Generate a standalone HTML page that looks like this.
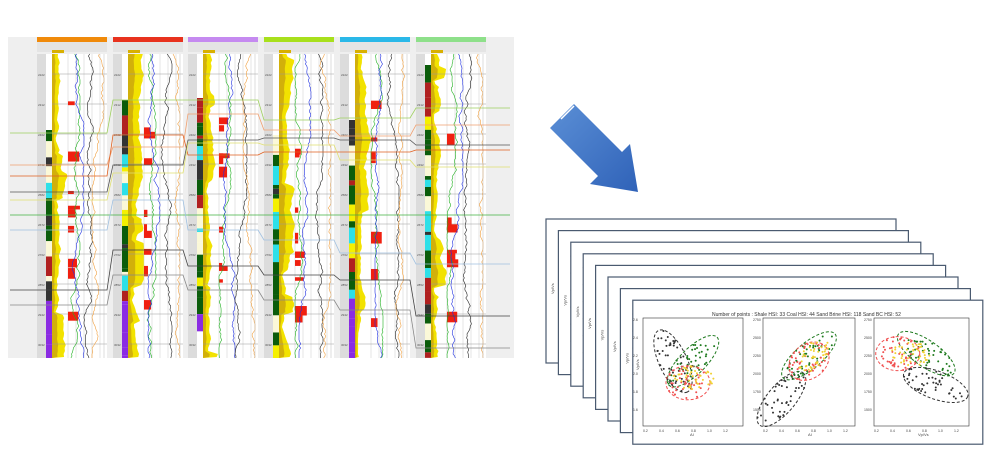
<!DOCTYPE html>
<html><head><meta charset="utf-8"><style>
html,body{margin:0;padding:0;background:#fff;}
body{width:992px;height:454px;overflow:hidden;position:relative;font-family:"Liberation Sans",sans-serif;}
svg{position:absolute;left:0;top:0;}
</style></head><body>
<svg id="s" width="992" height="454" viewBox="0 0 992 454" xmlns="http://www.w3.org/2000/svg">
<rect x="8" y="37" width="506" height="321" fill="#efefef"/>
<g id="wells"></g>
<g id="tops"></g>
<g>
<defs><linearGradient id="ag" x1="0" y1="0" x2="1" y2="1"><stop offset="0" stop-color="#5b8fd6"/><stop offset="1" stop-color="#2f62b8"/></linearGradient></defs>
<polygon points="566,112 574,104 622,152 630,144 638,192 590,184 598,176 550,128 558,120" fill="url(#ag)"/>
<line x1="556" y1="114" x2="569" y2="101" stroke="#fff" stroke-width="1.5"/>
<line x1="561" y1="119" x2="574" y2="106" stroke="#fff" stroke-width="1.5"/>
</g>
<g id="slides"></g>
<g font-size="5" fill="#333">
<text x="712" y="316">Number of points :   Shale HSI: 33    Coal HSI: 44    Sand Brine HSI: 118    Sand BC HSI: 52</text>
</g>
</svg>
<script>
var S=document.getElementById('s'),NS='http://www.w3.org/2000/svg';
var seed=7;function r(){seed=(seed*16807)%2147483647;return (seed-1)/2147483646;}
function el(t,a,p){var e=document.createElementNS(NS,t);for(var k in a)e.setAttribute(k,a[k]);(p||S).appendChild(e);return e;}
var W=document.getElementById('wells');
var wells=[[37,'#f08a0a',130],[113,'#e8321e',100],[188,'#c58af0',98],[264,'#a8e01c',135],[340,'#2ab8e8',120],[416,'#8ee08a',65]];
var top0=54,bot=358;
wells.forEach(function(w,i){
 var x=w[0],wd=70;
 el('rect',{x:x,y:37,width:wd,height:5,fill:w[1]},W);
 el('rect',{x:x,y:42,width:wd,height:10,fill:'#e4e4e4'},W);
 el('rect',{x:x+15,y:50,width:12,height:3,fill:'#d9b000'},W);
 el('rect',{x:x,y:top0,width:wd,height:bot-top0,fill:'#fff'},W);
 el('rect',{x:x,y:top0,width:9,height:bot-top0,fill:'#dcdcdc'},W);
 var y=w[2];var pal=['#0b5c0b','#0b5c0b','#0b5c0b','#f5f000','#fbf8d8','#2ee0e8','#333','#b02020','#0b5c0b'];
 while(y<bot){var h=3+r()*18;var c=pal[Math.floor(r()*pal.length)];
  if(y>bot-60&&(i==0||i==1||i==4))c='#8a2be2';
  if(i==2&&y>300&&y<318)c='#8a2be2';
  if(i==2&&y>318){break;}
  el('rect',{x:x+9,y:y,width:6,height:Math.min(h,bot-y),fill:c},W);y+=h;}
 var pts=[[x+15,top0]],gx=x+22,ins=[];
 for(var yy=top0;yy<=bot;yy+=3){gx+= (r()-0.5)*3; if(r()<0.06)gx=x+18+r()*13; gx=Math.max(x+18,Math.min(x+31,gx));pts.push([gx,yy]);ins.push([x+15+(gx-x-15)*0.45,yy]);}
 pts.push([x+15,bot]);
 el('polygon',{points:pts.map(function(p){return p.join(',')}).join(' '),fill:'#f2e200'},W);
 var ip=[[x+15,top0]].concat(ins).concat([[x+15,bot]]);
 el('polygon',{points:ip.map(function(p){return p.join(',')}).join(' '),fill:'#c9a40c',opacity:0.8},W);
 for(var k=0;k<5;k++)el('line',{x1:x+31+k*8,y1:top0,x2:x+31+k*8,y2:bot,stroke:'#ccc','stroke-width':0.5},W);
 for(var yy=top0+20;yy<bot;yy+=30){el('line',{x1:x+15,y1:yy,x2:x+wd,y2:yy,stroke:'#999','stroke-width':0.5},W);
  el('text',{x:x+1,y:yy+2,'font-size':3,fill:'#555'},W).textContent=(2000+yy*3)+'';}
 for(var k=0;k<9;k++){var yy=100+r()*220;el('rect',{x:x+31,y:yy,width:3+r()*9,height:3+r()*9,fill:'#f02010'},W);}
 [['#20b020',x+37],['#2030e0',x+41],['#222',x+53],['#f0a040',x+61]].forEach(function(c){
  var d='M',cx=c[1];for(var yy=top0;yy<=bot;yy+=2){cx+=(r()-0.5)*3;cx=Math.max(c[1]-6,Math.min(c[1]+6,cx));d+=cx.toFixed(1)+','+yy+' ';}
  el('path',{d:d,fill:'none',stroke:c[0],'stroke-width':0.6},W);});
 el('line',{x1:x+wd-3,y1:top0,x2:x+wd-3,y2:bot,stroke:'#bbb','stroke-width':0.5},W);
});
var T=document.getElementById('tops');
var tops=[['#9fd060',[133,100,100,120,118,108]],['#f0a070',[165,147,114,130,136,125]],['#e06020',[176,135,155,152,152,150]],['#555',[192,165,140,138,140,145]],['#e0e070',[200,173,143,145,160,167]],['#40b040',[215,215,215,215,215,215]],['#a0c0e0',[230,200,230,240,253,264]],['#444',[290,250,266,275,280,316]],['#888',[305,275,290,300,310,348]]];
tops.forEach(function(t){var d='M10,'+t[1][0]+' ';
 wells.forEach(function(w,i){d+='L'+w[0]+','+t[1][i]+' L'+(w[0]+70)+','+t[1][i]+' ';});
 d+='L510,'+t[1][5];
 el('path',{d:d,fill:'none',stroke:t[0],'stroke-width':0.8},T);});
var G=document.getElementById('slides');
for(var i=0;i<8;i++){var x=546+i*12.4,y=219+i*11.6;
 el('rect',{x:x,y:y,width:350,height:144,fill:'#fff',stroke:'#4a5a70','stroke-width':1.2},G);
 if(i<7){el('text',{x:x+8,y:y+75,'font-size':4,fill:'#444',transform:'rotate(-90 '+(x+8)+' '+(y+75)+')'},G).textContent='Vp/Vs';
  for(var k=0;k<7;k++)el('rect',{x:x+12,y:y+25+k*17,width:1.5,height:1,fill:'#555'},G);}
}
var plots=[[643,318,100,108],[763,318,92,108],[874,318,95,108]];
var cols=['#333','#1e7a1e','#f05050','#f0d030'];
plots.forEach(function(p,pi){
 el('rect',{x:p[0],y:p[1],width:p[2],height:p[3],fill:'none',stroke:'#333','stroke-width':0.6},G);
 for(var k=0;k<6;k++){el('text',{x:p[0]-10,y:p[1]+3+k*18,'font-size':3.5,fill:'#444'},G).textContent=pi==0?(2.6-k*0.2).toFixed(1):(2750-k*250)+'';
  el('text',{x:p[0]+k*16,y:p[1]+p[3]+6,'font-size':3.5,fill:'#444'},G).textContent=(0.2+k*0.2).toFixed(1);}
 var cs=[[[0.3,0.4],[0.5,0.4],[0.45,0.6],[0.5,0.55]],[[0.2,0.75],[0.5,0.35],[0.5,0.4],[0.55,0.35]],[[0.65,0.62],[0.55,0.33],[0.25,0.33],[0.4,0.33]]][pi];
 var rots=[[65,-45,0,0],[-50,-40,-40,-40],[20,35,0,0]][pi];
 cs.forEach(function(c,ci){var cx=p[0]+c[0]*p[2],cy=p[1]+c[1]*p[3];
  var rx=[34,34,22,22][ci],ry=[14,13,17,12][ci];
  if(ci<3)el('ellipse',{cx:cx,cy:cy,rx:rx,ry:ry,fill:'none',stroke:cols[ci],'stroke-width':1,'stroke-dasharray':'3,2',transform:'rotate('+rots[ci]+' '+cx+' '+cy+')'},G);
  for(var k=0;k<45;k++){var a=r()*6.28,d=Math.sqrt(r());var ex=Math.cos(a)*rx*d,ey=Math.sin(a)*ry*d,t=rots[ci]*Math.PI/180;
   el('circle',{cx:cx+ex*Math.cos(t)-ey*Math.sin(t),cy:cy+ex*Math.sin(t)+ey*Math.cos(t),r:1,fill:cols[ci]},G);}
 });
});
el('text',{x:639,y:370,'font-size':4,fill:'#444',transform:'rotate(-90 639 370)'},G).textContent='Vp/Vs';
el('text',{x:690,y:436,'font-size':4,fill:'#444'},G).textContent='AI';
el('text',{x:808,y:436,'font-size':4,fill:'#444'},G).textContent='AI';
el('text',{x:918,y:436,'font-size':4,fill:'#444'},G).textContent='Vp/Vs';
</script>
</body></html>
